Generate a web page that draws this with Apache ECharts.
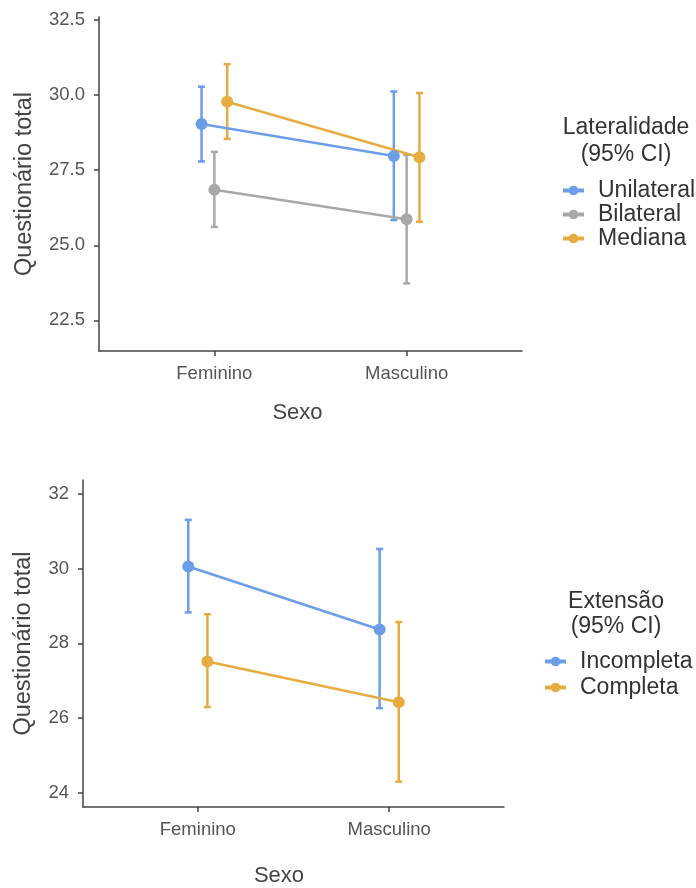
<!DOCTYPE html>
<html>
<head>
<meta charset="utf-8">
<script src="https://cdn.jsdelivr.net/npm/echarts@6/dist/echarts.min.js"></script>
<style>
  html, body { margin: 0; padding: 0; background: #fff; }
  #chart { width: 696px; height: 888px; }
</style>
</head>
<body>
<div id="chart"></div>
<script>
// categories on the x axis
const sexo = ['Feminino', 'Masculino'];

// top panel: Lateralidade (mean and 95% CI, per sexo)
const lateralidade = ['Unilateral', 'Bilateral', 'Mediana'];
const latMean = [[29.04, 27.97], [26.85, 25.87], [29.78, 27.93]];
const latLower = [[27.79, 25.84], [25.61, 23.73], [28.54, 25.78]];
const latUpper = [[30.28, 30.12], [28.11, 28.01], [31.03, 30.07]];
const latTicks = [22.5, 25, 27.5, 30, 32.5];

// bottom panel: Extensão
const extensao = ['Incompleta', 'Completa'];
const extMean = [[30.06, 28.37], [27.51, 26.42]];
const extLower = [[28.83, 26.26], [26.29, 24.29]];
const extUpper = [[31.31, 30.53], [28.78, 28.57]];
const extTicks = [24, 26, 28, 30, 32];

const BLUE = '#6B9DE8';
const GREY = '#A8A8A8';
const ORANGE = '#E6AC40';
const FONT = 'Liberation Sans, Arial, sans-serif';
const DODGE = 0.2;

const chart = echarts.init(document.getElementById('chart'));

const buildSeries = (groups, means, lower, upper, colors, idx) => {
  const n = groups.length;
  const out = [];
  groups.forEach((g, i) => {
    const off = (DODGE * (i - (n - 1) / 2)) / n;
    const color = colors[i];
    // error bars
    out.push({
      name: g + ' CI',
      type: 'custom',
      xAxisIndex: idx,
      yAxisIndex: idx,
      data: sexo.map((s, j) => [j + 1 + off, lower[i][j], upper[i][j]]),
      encode: { x: 0, y: [1, 2] },
      renderItem: (params, api) => {
        const lo = api.coord([api.value(0), api.value(1)]);
        const hi = api.coord([api.value(0), api.value(2)]);
        const cap = 3.5;
        const style = { stroke: color, lineWidth: 2.5 };
        return {
          type: 'group',
          children: [
            { type: 'line', shape: { x1: lo[0], y1: lo[1], x2: hi[0], y2: hi[1] }, style },
            { type: 'line', shape: { x1: lo[0] - cap, y1: lo[1], x2: lo[0] + cap, y2: lo[1] }, style },
            { type: 'line', shape: { x1: hi[0] - cap, y1: hi[1], x2: hi[0] + cap, y2: hi[1] }, style }
          ]
        };
      },
      z: 2
    });
    // means joined by a line
    out.push({
      name: g,
      type: 'line',
      xAxisIndex: idx,
      yAxisIndex: idx,
      data: sexo.map((s, j) => [j + 1 + off, means[i][j]]),
      symbol: 'circle',
      symbolSize: 12,
      lineStyle: { width: 2.5, color },
      itemStyle: { color },
      z: 3
    });
  });
  return out;
};

const xAxisBase = gridIndex => ({
  type: 'value',
  gridIndex,
  min: 0.4,
  max: 2.6,
  axisLine: { show: true, lineStyle: { color: '#444', width: 1.5 } },
  axisTick: { show: true, customValues: [1, 2], length: 5, lineStyle: { color: '#444', width: 1.5 } },
  axisLabel: {
    customValues: [1, 2],
    formatter: v => sexo[Math.round(v) - 1],
    color: '#555',
    fontFamily: FONT,
    fontSize: 18.5,
    margin: 13
  },
  splitLine: { show: false },
  name: 'Sexo',
  nameLocation: 'middle',
  nameTextStyle: { color: '#444', fontFamily: FONT, fontSize: 22 }
});

const yAxisBase = (gridIndex, ticks, fmt) => ({
  type: 'value',
  gridIndex,
  axisLine: { show: true, lineStyle: { color: '#444', width: 1.5 } },
  axisTick: { show: true, customValues: ticks, length: 5, lineStyle: { color: '#444', width: 1.5 } },
  axisLabel: {
    customValues: ticks,
    formatter: fmt,
    color: '#555',
    fontFamily: FONT,
    fontSize: 18.5,
    margin: 14
  },
  splitLine: { show: false },
  name: 'Questionário total',
  nameLocation: 'middle',
  nameRotate: 90,
  nameTextStyle: { color: '#444', fontFamily: FONT, fontSize: 23.5 }
});

const legendBase = {
  orient: 'vertical',
  itemWidth: 21,
  itemHeight: 12,
  lineStyle: { width: 4 },
  textStyle: { color: '#333', fontFamily: FONT, fontSize: 23, padding: [0, 0, 0, 9] }
};

const topX = xAxisBase(0);
topX.nameGap = 51;
topX.nameTextStyle.padding = [0, 26, 0, 0];
const botX = xAxisBase(1);
botX.nameGap = 58;
botX.nameTextStyle.padding = [0, 29, 0, 0];

const topY = yAxisBase(0, latTicks, v => v.toFixed(1));
topY.min = 21.48;
topY.max = 32.6;
topY.nameGap = 62;
const botY = yAxisBase(1, extTicks, v => String(v));
botY.min = 23.61;
botY.max = 32.38;
botY.nameGap = 47;

chart.setOption({
  animation: false,
  backgroundColor: '#fff',
  grid: [
    { left: 99, right: 174, top: 17, bottom: 537 },
    { left: 83, right: 192, top: 480, bottom: 80 }
  ],
  xAxis: [topX, botX],
  yAxis: [topY, botY],
  legend: [
    Object.assign({}, legendBase, { data: lateralidade, left: 556, top: 174, itemGap: 1 }),
    Object.assign({}, legendBase, { data: extensao, left: 538, top: 645, itemGap: 3 })
  ],
  graphic: [
    {
      type: 'text',
      x: 626,
      y: 114.5,
      style: {
        text: 'Lateralidade\n(95% CI)',
        align: 'center',
        verticalAlign: 'top',
        lineHeight: 27,
        fontSize: 23,
        fontFamily: FONT,
        fill: '#333'
      }
    },
    {
      type: 'text',
      x: 616,
      y: 589,
      style: {
        text: 'Extensão\n(95% CI)',
        align: 'center',
        verticalAlign: 'top',
        lineHeight: 25,
        fontSize: 23,
        fontFamily: FONT,
        fill: '#333'
      }
    }
  ],
  series: [
    ...buildSeries(lateralidade, latMean, latLower, latUpper, [BLUE, GREY, ORANGE], 0),
    ...buildSeries(extensao, extMean, extLower, extUpper, [BLUE, ORANGE], 1)
  ]
});
</script>
</body>
</html>
